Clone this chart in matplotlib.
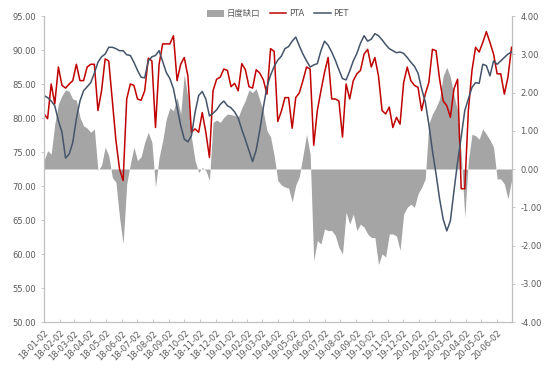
import numpy as np
import pandas as pd
import matplotlib
matplotlib.use("Agg")
import matplotlib.pyplot as plt
import matplotlib.dates as mdates
from matplotlib.patches import Patch
from matplotlib.lines import Line2D

plt.rcParams['font.family'] = ['DejaVu Sans', 'Noto Sans CJK SC']

# weekly samples, starting 2018-01-02
start_date = '2018-01-02'

pta = [80.6, 79.9, 85.0, 82.1, 87.5, 84.8, 84.4, 85.0, 85.5, 87.9,
       85.5, 85.5, 87.5, 87.9, 87.9, 81.1, 84.0, 88.7, 88.4, 82.5,
       76.7, 72.5, 70.8, 82.8, 85.0, 84.8, 82.8, 82.6, 84.0, 88.8,
       88.4, 78.6, 87.9, 90.9, 90.9, 90.9, 92.1, 85.5, 87.9, 88.9,
       86.2, 77.9, 78.4, 77.9, 80.8, 77.9, 74.2, 84.0, 85.7, 86.0,
       87.2, 87.0, 84.6, 85.1, 84.0, 88.0, 87.1, 84.6, 84.4, 87.1,
       86.6, 85.6, 83.5, 90.2, 89.8, 79.5, 81.0, 83.0, 83.0, 78.5,
       83.0, 83.7, 85.5, 87.5, 87.2, 76.0, 81.1, 84.0, 86.7, 88.9,
       82.8, 82.8, 82.5, 77.2, 85.0, 82.8, 85.5, 86.5, 87.0, 89.4,
       90.1, 87.5, 88.9, 86.2, 81.1, 80.6, 81.6, 78.6, 80.1, 79.1,
       85.2, 87.5, 85.5, 84.8, 84.5, 81.1, 83.5, 85.2, 90.1, 89.9,
       85.7, 82.5, 81.8, 80.1, 84.3, 85.7, 69.6, 69.6, 81.1, 87.0,
       90.4, 89.7, 91.1, 92.7, 91.1, 89.4, 86.5, 86.5, 83.5, 86.0,
       90.4]

pet = [83.3, 83.0, 82.5, 81.8, 79.6, 77.9, 74.1, 74.7, 76.4, 79.9,
       82.5, 84.0, 84.6, 85.2, 86.6, 88.2, 89.0, 89.4, 90.4, 90.4,
       90.2, 89.9, 89.9, 89.3, 89.2, 88.2, 87.0, 86.0, 85.9, 88.4,
       89.0, 89.2, 89.9, 88.3, 86.7, 85.8, 84.3, 81.6, 78.9, 76.9,
       76.5, 77.4, 80.8, 83.3, 83.9, 82.8, 80.3, 80.7, 81.2, 82.0,
       82.5, 81.8, 81.5, 80.9, 80.0, 78.3, 76.8, 75.2, 73.6, 75.3,
       78.2, 81.6, 84.6, 86.3, 87.6, 88.5, 89.1, 90.2, 90.5, 91.3,
       91.9, 90.6, 89.4, 88.4, 87.5, 87.8, 88.0, 89.9, 91.3, 90.7,
       89.7, 88.5, 87.1, 85.8, 85.6, 86.9, 88.4, 89.5, 91.0, 92.1,
       91.3, 91.6, 92.4, 92.1, 91.5, 90.8, 90.2, 89.9, 89.6, 89.7,
       89.5, 88.9, 88.2, 87.6, 86.6, 84.3, 82.4, 79.1, 75.2, 71.8,
       68.1, 65.1, 63.4, 64.9, 69.3, 73.5, 77.2, 81.1, 82.8, 84.5,
       85.2, 85.1, 87.9, 87.7, 86.2, 88.4, 87.9, 88.4, 88.9, 89.4,
       89.7]

gap = [0.22, 0.48, 0.39, 1.18, 1.70, 1.92, 2.07, 2.03, 1.83, 1.80,
       1.35, 1.13, 1.07, 0.96, 1.05, -0.04, 0.10, 0.57, 0.35, -0.22,
       -0.35, -1.26, -1.96, -0.39, 0.13, 0.57, 0.22, 0.32, 0.70, 0.96,
       0.70, -0.48, 0.30, 0.74, 1.31, 1.60, 1.52, 1.87, 1.44, 2.48,
       1.87, 0.83, 0.22, -0.09, 0.04, -0.04, -0.30, 1.22, 1.28, 1.22,
       1.35, 1.44, 1.42, 1.40, 1.35, 1.60, 1.80, 2.07, 2.00, 2.10,
       1.80, 1.50, 1.00, 0.84, 0.35, -0.30, -0.42, -0.47, -0.50, -0.86,
       -0.42, -0.20, 0.35, 0.91, 0.39, -2.40, -1.87, -1.96, -1.57, -1.61,
       -1.61, -1.74, -2.05, -2.22, -1.13, -1.44, -1.18, -1.61, -1.44, -1.52,
       -1.70, -1.79, -1.79, -2.50, -2.22, -2.30, -1.70, -1.70, -1.75, -2.13,
       -1.18, -1.00, -0.92, -1.00, -0.65, -0.48, -0.26, 1.18, 1.44, 1.61,
       1.83, 2.44, 2.66, 2.40, 1.92, 1.52, 0.39, -1.26, 0.22, 0.91,
       0.87, 0.78, 1.05, 0.91, 0.76, 0.57, -0.26, -0.26, -0.39, -0.78,
       -0.30]

dates = pd.date_range(start_date, periods=len(pta), freq='7D')

grey_txt = '#595959'
spine_c = '#BFBFBF'

fig = plt.figure(figsize=(5.5, 3.68), dpi=100)
ax = fig.add_axes([0.08, 0.125, 0.851, 0.8315])
ax2 = ax.twinx()

ax2.fill_between(dates, 0, gap, color='#A5A5A5', lw=0)
ax.plot(dates, pta, color='#C00000', lw=1.1)
ax.plot(dates, pet, color='#44546A', lw=1.1)

ax.set_zorder(ax2.get_zorder() + 1)
ax.patch.set_visible(False)

ax.set_ylim(50, 95)
ax.set_yticks(np.arange(50, 95.1, 5))
ax.yaxis.set_major_formatter(plt.FormatStrFormatter('%.2f'))
ax2.set_ylim(-4, 4)
ax2.set_yticks(np.arange(-4, 4.1, 1))
ax2.yaxis.set_major_formatter(plt.FormatStrFormatter('%.2f'))

ax.set_xlim(pd.Timestamp('2018-01-02'), pd.Timestamp('2020-07-01'))
ax.xaxis.set_major_locator(mdates.MonthLocator(bymonthday=2))
ax.xaxis.set_major_formatter(mdates.DateFormatter('%y-%m-%d'))
plt.setp(ax.get_xticklabels(), rotation=45, ha='right', rotation_mode='anchor')

for a in (ax, ax2):
    a.spines['top'].set_visible(False)
    for s in ('left', 'right', 'bottom'):
        a.spines[s].set_color(spine_c)
        a.spines[s].set_linewidth(0.8)
    a.tick_params(labelsize=6, colors=grey_txt, length=2.5, width=0.6)
    a.tick_params(axis='both', color=spine_c)
ax.tick_params(axis='x', direction='in', pad=5)

handles = [Patch(color='#A5A5A5', lw=0), Line2D([], [], color='#C00000', lw=1.1),
           Line2D([], [], color='#44546A', lw=1.1)]
fig.legend(handles, ['日度缺口', 'PTA', 'PET'], loc='center', ncol=3,
           bbox_to_anchor=(0.505, 0.963), frameon=False, fontsize=6,
           handlelength=2.0, handleheight=0.9, handletextpad=0.3,
           columnspacing=1.2, labelcolor=grey_txt)

fig.savefig('out.png', dpi=100)
